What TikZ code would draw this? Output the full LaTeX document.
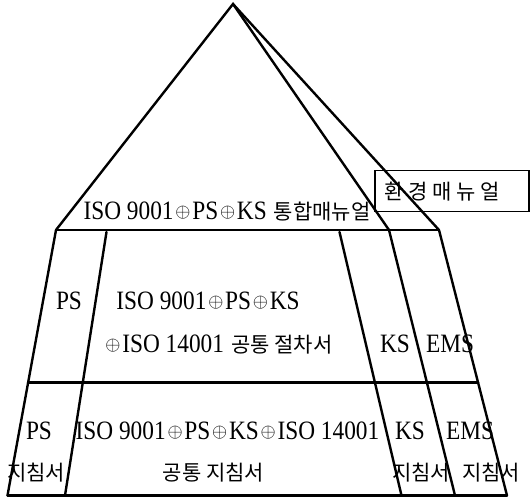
\documentclass[tikz,border=0pt]{standalone}
\usepackage{fontspec}
\usetikzlibrary{calc}
\setmainfont{Liberation Serif}
\newfontfamily\latf[FakeStretch=0.88]{Liberation Serif}
\newfontfamily\krf{Noto Sans CJK KR}
\newcommand\La{\fontsize{26.5}{26.5}\latf}
\newcommand\Ko[1]{{\fontsize{21}{21}\krf #1}}
\newcommand\op{\kern1.8pt\raisebox{0.1em}{\scalebox{0.78}{$\oplus$}}\kern1.8pt}
\tikzset{
  ln/.style={line width=2.4pt, line join=miter, line cap=round},
  txt/.style={inner sep=0pt, anchor=base},
  ktxt/.style={inner sep=0pt, anchor=center},
  boxed/.style={draw, line width=1.4pt}
}
\begin{document}
\begin{tikzpicture}[x=1pt,y=1pt]
\useasboundingbox (0,0) rectangle (531,500);
% key points
\coordinate (apex) at (233,496);
\coordinate (bl) at (56,270);
\coordinate (bi) at (389,270);
\coordinate (br) at (439,270);
\coordinate (t2) at (106.5,268);
\coordinate (t3) at (339.5,268);
\coordinate (b1) at (7.5,4.5);
\coordinate (b2) at (65,4.5);
\coordinate (b3) at (401.5,4.5);
\coordinate (b4) at (455,4.5);
\coordinate (b5) at (507,4.5);
% pyramid
\draw[ln] (bl) -- (apex) -- (bi);
\draw[ln] (apex) -- (br);
\draw[ln] (bl) -- (br);
% verticals
\draw[ln] (bl) -- (b1);
\draw[ln] (t2) -- (b2);
\draw[ln] (t3) -- (b3);
\draw[ln] (bi) -- (b4);
\draw[ln] (br) -- (b5);
% middle and bottom lines
\coordinate (m1) at ($(bl)!0.575!(b1)$);
\coordinate (m5) at ($(br)!0.575!(b5)$);
\draw[ln] (m1) -- (m5);
\draw[ln] (b1) -- (b5);
% box
\node[boxed, minimum width=154pt, minimum height=41pt, inner sep=0pt] (envbox) at (452,308.8) {};
\node[ktxt] (envtxt) at (442,308) {\Ko{환 경 매 뉴 얼}};
% title
\node[txt] (title) at (227,280) {\La ISO 9001\op PS\op KS\kern7pt\Ko{통합매뉴얼}};
% middle row
\node[txt] (mps) at (69,190) {\La PS};
\node[txt] (miso) at (208,190) {\La ISO 9001\op PS\op KS};
\node[txt] (miso2) at (218,147) {\La \op ISO 14001\kern7pt\Ko{공통 절차서}};
\node[txt] (mks) at (395,147) {\La KS};
\node[txt] (mems) at (450,147) {\La EMS};
% bottom row
\node[txt] (bps) at (39,60) {\La PS};
\node[txt] (biso) at (227.5,60) {\La ISO 9001\op PS\op KS\op ISO 14001};
\node[txt] (bks) at (410,60) {\La KS};
\node[txt] (bems) at (470,60) {\La EMS};
\node[ktxt] (g1) at (36,27) {\Ko{지침서}};
\node[ktxt] (g2) at (213.5,27) {\Ko{공통 지침서}};
\node[ktxt] (g3) at (421,27) {\Ko{지침서}};
\node[ktxt] (g4) at (491,27) {\Ko{지침서}};
\end{tikzpicture}
\end{document}
